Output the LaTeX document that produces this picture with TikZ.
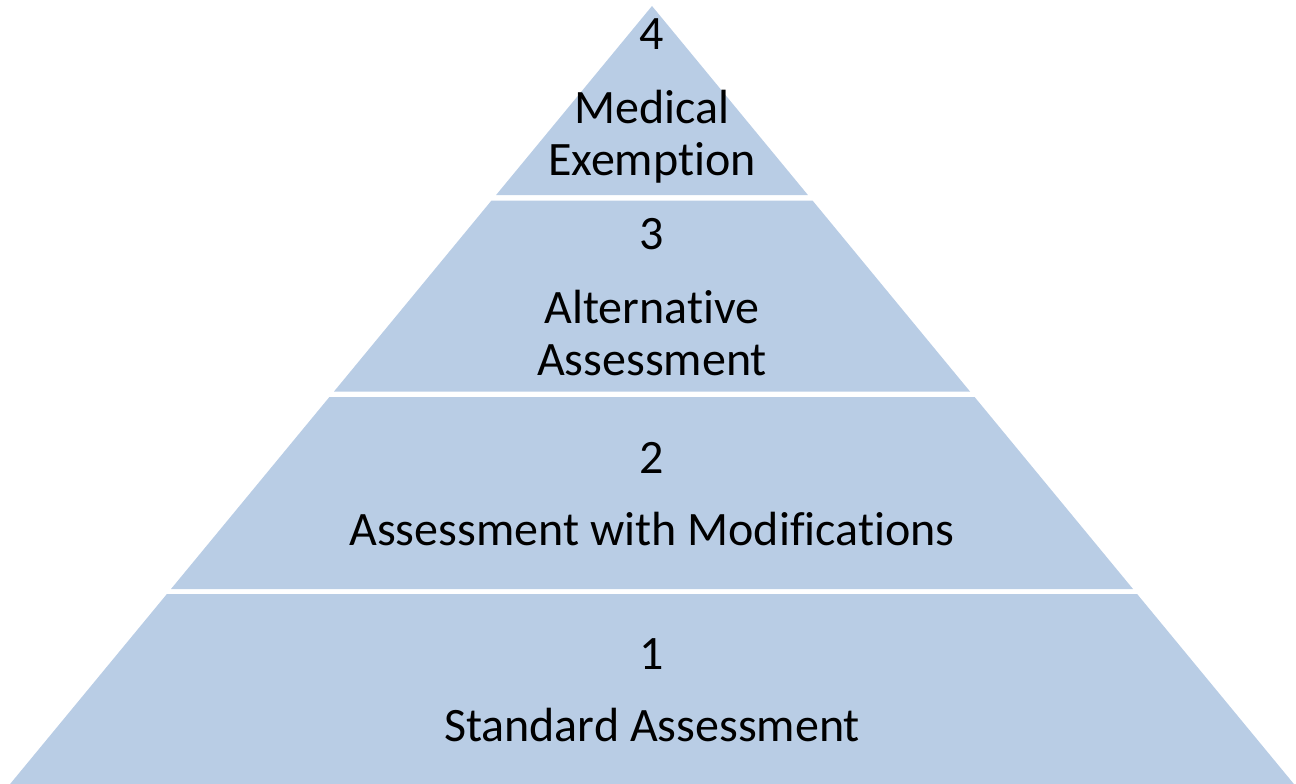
\documentclass[tikz,border=0pt]{standalone}
\usepackage{fontspec}
\setmainfont[Ligatures=NoCommon]{Carlito}
\usepackage{tikz}
\usepackage{xcolor}
\usetikzlibrary{positioning}

\definecolor{tierblue}{HTML}{B9CDE5}

\tikzset{
    tier/.style={fill=tierblue, draw=none},
    tiertext/.style={align=center, font=\fontsize{48}{52}\selectfont, inner sep=0pt}
}

\begin{document}
\begin{tikzpicture}[x=1pt, y=-1pt]
                                \useasboundingbox (0, 0) rectangle (1296, 784);
                                % the four tiers, cut from one triangle
                                \fill[tier] (652, 6) -- (807.9, 195) -- (496.1, 195) -- cycle;
                                \fill[tier] (491.5, 200.5) -- (812.5, 200.5) -- (970, 391.5) -- (334, 391.5) -- cycle;
                                \fill[tier] (329.4, 397) -- (974.6, 397) -- (1133, 589) -- (171, 589) -- cycle;
                                \fill[tier] (166.9, 594) -- (1137.1, 594) -- (1293.9, 784) -- (10.1, 784) -- cycle;
                                % tier labels
                                \node[tiertext] (tierfour) at (652, 101) {4\\[22pt]Medical\\Exemption};
                                \node[tiertext] (tierthree) at (652, 297) {3\\[22pt]Alternative\\Assessment};
                                \node[tiertext] (tiertwo) at (652, 494) {2\\[20pt]Assessment with Modifications};
                                \node[tiertext] (tierone) at (652, 690) {1\\[20pt]Standard Assessment};
                            \end{tikzpicture}
\end{document}
